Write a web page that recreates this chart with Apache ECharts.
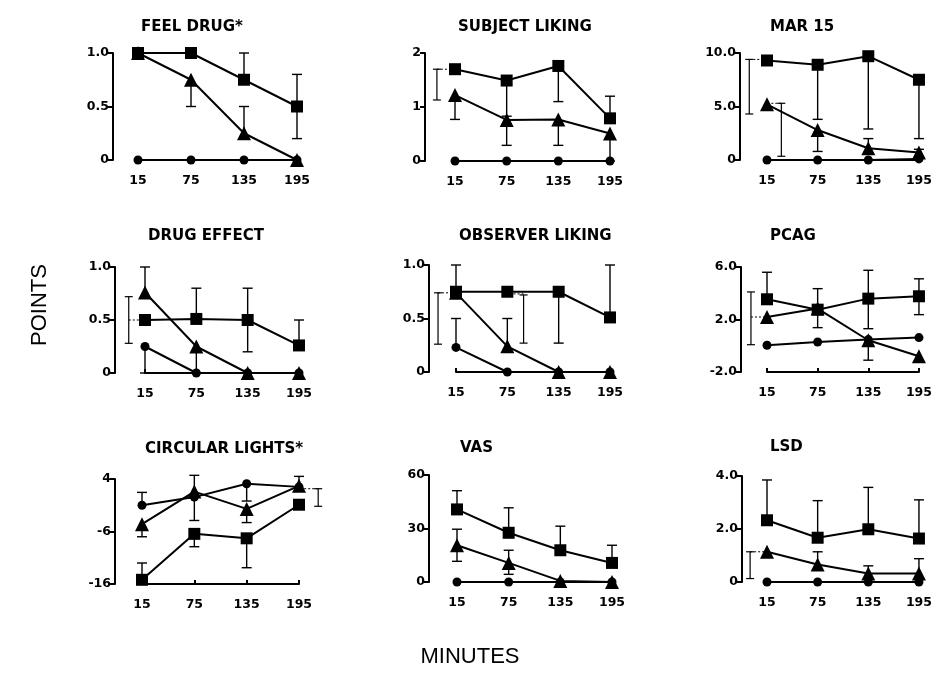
<!DOCTYPE html>
<html>
<head>
<meta charset="utf-8">
<script src="https://cdn.jsdelivr.net/npm/echarts@6/dist/echarts.min.js"></script>
<style>
html,body{margin:0;padding:0;background:#fff;}
#chart{width:935px;height:694px;}
</style>
</head>
<body>
<div id="chart"></div>
<script>
// ---------- DATA ----------
const minutes = [15, 75, 135, 195];
const xTickLabels = ['15', '75', '135', '195'];
const titles = ['FEEL DRUG*', 'SUBJECT LIKING', 'MAR 15', 'DRUG EFFECT', 'OBSERVER LIKING', 'PCAG', 'CIRCULAR LIGHTS*', 'VAS', 'LSD'];
const yMins = [0, 0, 0, 0, 0, -2, -16, 0, 0];
const yMaxs = [1, 2, 10, 1, 1, 6, 4, 60, 4];
const yTickLabels = [
  ['0', '0.5', '1.0'], ['0', '1', '2'], ['0', '5.0', '10.0'],
  ['0', '0.5', '1.0'], ['0', '0.5', '1.0'], ['-2.0', '2.0', '6.0'],
  ['-16', '-6', '4'], ['0', '30', '60'], ['0', '2.0', '4.0']
];
// group means (square, triangle, circle)
const squareValues = [
  [1.0, 1.0, 0.75, 0.5],
  [1.70, 1.49, 1.76, 0.79],
  [9.3, 8.9, 9.7, 7.5],
  [0.50, 0.51, 0.50, 0.26],
  [0.75, 0.75, 0.75, 0.51],
  [3.54, 2.75, 3.59, 3.77],
  [-15.2, -6.45, -7.3, -0.9],
  [40.7, 27.6, 17.8, 10.7],
  [2.33, 1.67, 1.99, 1.64]
];
const triangleValues = [
  [1.0, 0.75, 0.25, 0.0],
  [1.22, 0.76, 0.77, 0.51],
  [5.2, 2.8, 1.1, 0.7],
  [0.76, 0.25, 0.0, 0.0],
  [0.74, 0.24, 0.0, 0.0],
  [2.19, 2.83, 0.42, -0.80],
  [-4.6, 1.6, -1.7, 2.7],
  [20.6, 10.7, 0.6, 0.0],
  [1.14, 0.66, 0.32, 0.32]
];
const circleValues = [
  [0, 0, 0, 0],
  [0, 0, 0, 0],
  [0, 0, 0, 0.1],
  [0.25, 0, 0, 0],
  [0.23, 0, 0, 0],
  [0.04, 0.29, 0.47, 0.62],
  [-1.0, 0.55, 3.1, 2.5],
  [0, 0, 0, 0],
  [0, 0, 0, 0]
];
// error bars [low, high] per time point (null = none)
const squareErrors = [
  [null, null, [0.75, 1.0], [0.2, 0.8]],
  [null, [0.29, 1.49], [1.10, 1.76], [0.79, 1.20]],
  [null, [3.8, 8.9], [2.9, 9.7], [2.0, 7.5]],
  [null, [0.51, 0.80], [0.2, 0.8], [0.26, 0.5]],
  [[0.75, 1.0], null, [0.27, 0.75], [0.51, 1.0]],
  [[3.54, 5.6], [1.38, 4.35], [1.3, 5.75], [2.37, 5.1]],
  [[-15.2, -12.0], [-8.9, -6.45], [-12.9, -7.3], null],
  [[40.7, 51.2], [27.6, 41.6], [17.8, 31.3], [10.7, 20.6]],
  [[2.33, 3.85], [1.67, 3.07], [1.99, 3.57], [1.64, 3.1]]
];
const triangleErrors = [
  [null, [0.5, 0.75], [0.25, 0.5], null],
  [[0.77, 1.22], [0.76, 0.83], [0.29, 0.77], [0, 0.51]],
  [null, [0.8, 2.8], [1.1, 2.0], [0.7, 1.0]],
  [[0.76, 1.0], [0, 0.25], null, null],
  [null, [0.24, 0.5], null, null],
  [null, null, [-1.1, 0.42], null],
  [[-7.0, -4.6], [1.6, 4.7], [-4.3, -1.7], [2.7, 4.5]],
  [[11.6, 29.6], [4.3, 17.8], null, null],
  [null, [0.66, 1.14], [0.32, 0.61], [0.32, 0.88]]
];
const circleErrors = [
  [null, null, null, null],
  [null, null, null, null],
  [null, null, null, null],
  [[0, 0.25], null, null, null],
  [[0.23, 0.5], null, null, null],
  [null, null, null, null],
  [[-1.0, 1.45], [-3.9, 0.55], [-0.2, 3.1], null],
  [null, null, null, null],
  [null, null, null, null]
];
// separate brackets: [minute position, low, high, connect-to minute, connect at value]
const brackets = [
  [],
  [[-6, 1.13, 1.70, 15, 1.70]],
  [[-6, 4.3, 9.4, 15, 9.4], [32, 0.35, 5.3, 15, 5.3]],
  [[-4, 0.28, 0.72, 15, 0.5]],
  [[-6, 0.26, 0.74, 15, 0.74], [94, 0.27, 0.72, 75, 0.73]],
  [[-4, 0.08, 4.1, 15, 2.19]],
  [[217, -1.2, 2.15, 195, 2.15]],
  [],
  [[-5, 0.13, 1.14, 15, 1.14]]
];

// ---------- LAYOUT ----------
// [left, top, width, height, yAxisOffset, titleTop]
const boxes = [
  [138, 53, 159, 107, 25, 15],
  [455, 53, 155, 108, 30, 15],
  [767, 53, 154, 107, 27, 15],
  [145, 267, 154, 106, 30, 224],
  [456, 265, 154, 107, 27, 224],
  [767, 267, 155, 105, 26, 224],
  [142, 479, 157, 105, 27, 437],
  [457, 475, 155, 107, 28, 436],
  [767, 476, 155, 106, 25, 435]
];

const BOLD = 'DejaVu Sans';
const chart = echarts.init(document.getElementById('chart'), null, {renderer: 'canvas'});

function errItems(errs, vals) {
  const out = [];
  errs.forEach((e, j) => { if (e) out.push([minutes[j], vals[j], e[0], e[1]]); });
  return out;
}

function renderError(params, api) {
  const x = api.value(0), v = api.value(1), lo = api.value(2), hi = api.value(3);
  const a = api.coord([x, lo]), b = api.coord([x, hi]);
  const st = {stroke: '#000', lineWidth: 1.4};
  const ch = [{type: 'line', shape: {x1: a[0], y1: a[1], x2: b[0], y2: b[1]}, style: st}];
  const w = 5;
  if (Math.abs(lo - v) > 1e-9) ch.push({type: 'line', shape: {x1: a[0] - w, y1: a[1], x2: a[0] + w, y2: a[1]}, style: st});
  if (Math.abs(hi - v) > 1e-9) ch.push({type: 'line', shape: {x1: b[0] - w, y1: b[1], x2: b[0] + w, y2: b[1]}, style: st});
  return {type: 'group', children: ch};
}

function renderBracket(params, api) {
  const x = api.value(0), lo = api.value(1), hi = api.value(2), tx = api.value(3), ty = api.value(4);
  const a = api.coord([x, lo]), b = api.coord([x, hi]);
  const c1 = api.coord([x, ty]), c2 = api.coord([tx, ty]);
  const st = {stroke: '#000', lineWidth: 1.2};
  const w = 4;
  return {type: 'group', children: [
    {type: 'line', shape: {x1: a[0], y1: a[1], x2: b[0], y2: b[1]}, style: st},
    {type: 'line', shape: {x1: a[0] - w, y1: a[1], x2: a[0] + w, y2: a[1]}, style: st},
    {type: 'line', shape: {x1: b[0] - w, y1: b[1], x2: b[0] + w, y2: b[1]}, style: st},
    {type: 'line', shape: {x1: c1[0], y1: c1[1], x2: c2[0], y2: c2[1]}, style: {stroke: '#000', lineWidth: 1, lineDash: [2, 2]}}
  ]};
}

const grids = [], xAxes = [], yAxes = [], series = [], titleOpts = [];
for (let i = 0; i < 9; i++) {
  const bx = boxes[i];
  grids.push({left: bx[0], top: bx[1], width: bx[2], height: bx[3], containLabel: false});
  titleOpts.push({
    text: titles[i], left: bx[0] - 2, top: bx[5],
    textStyle: {fontFamily: BOLD, fontWeight: 'bold', fontSize: 15, color: '#000'}
  });
  xAxes.push({
    type: 'value', gridIndex: i, min: 15, max: 195,
    axisLine: {show: true, onZero: false, lineStyle: {color: '#000', width: 2}},
    axisTick: {show: true, inside: true, length: 4, customValues: minutes, lineStyle: {color: '#000', width: 2}},
    axisLabel: {
      customValues: minutes, margin: 14, color: '#000',
      fontFamily: BOLD, fontWeight: 'bold', fontSize: 12.5,
      formatter: v => xTickLabels[minutes.indexOf(Math.round(v))] || ''
    },
    splitLine: {show: false}
  });
  const mn = yMins[i], mx = yMaxs[i], iv = (mx - mn) / 2, labs = yTickLabels[i];
  yAxes.push({
    type: 'value', gridIndex: i, min: mn, max: mx, interval: iv, offset: bx[4],
    axisLine: {show: true, lineStyle: {color: '#000', width: 2}},
    axisTick: {show: true, length: 5, lineStyle: {color: '#000', width: 2}},
    axisLabel: {
      margin: 4, color: '#000', fontFamily: BOLD, fontWeight: 'bold', fontSize: 12.5,
      formatter: v => labs[Math.round((v - mn) / iv)] || ''
    },
    splitLine: {show: false}
  });
  const groups = [
    [squareValues[i], squareErrors[i], 'rect', 12],
    [triangleValues[i], triangleErrors[i], 'triangle', 14],
    [circleValues[i], circleErrors[i], 'circle', 9]
  ];
  groups.forEach(g => {
    series.push({
      type: 'custom', xAxisIndex: i, yAxisIndex: i, clip: false, z: 1, silent: true,
      renderItem: renderError, data: errItems(g[1], g[0])
    });
  });
  groups.forEach(g => {
    series.push({
      type: 'line', xAxisIndex: i, yAxisIndex: i, clip: false, z: 3, silent: true,
      data: minutes.map((m, j) => [m, g[0][j]]),
      symbol: g[2], symbolSize: g[3], showSymbol: true,
      lineStyle: {color: '#000', width: 2},
      itemStyle: {color: '#000', borderWidth: 0},
      animation: false
    });
  });
  series.push({
    type: 'custom', xAxisIndex: i, yAxisIndex: i, clip: false, z: 1, silent: true,
    renderItem: renderBracket, data: brackets[i]
  });
}

chart.setOption({
  animation: false,
  backgroundColor: '#fff',
  title: titleOpts,
  grid: grids,
  xAxis: xAxes,
  yAxis: yAxes,
  series: series,
  graphic: [
    {type: 'text', x: 40, y: 305, rotation: Math.PI / 2,
      style: {text: 'POINTS', fontFamily: 'Liberation Sans', fontSize: 22, fill: '#000', align: 'center', verticalAlign: 'middle'}},
    {type: 'text', x: 470, y: 657,
      style: {text: 'MINUTES', fontFamily: 'Liberation Sans', fontSize: 22, fill: '#000', align: 'center', verticalAlign: 'middle'}}
  ]
});
</script>
</body>
</html>
